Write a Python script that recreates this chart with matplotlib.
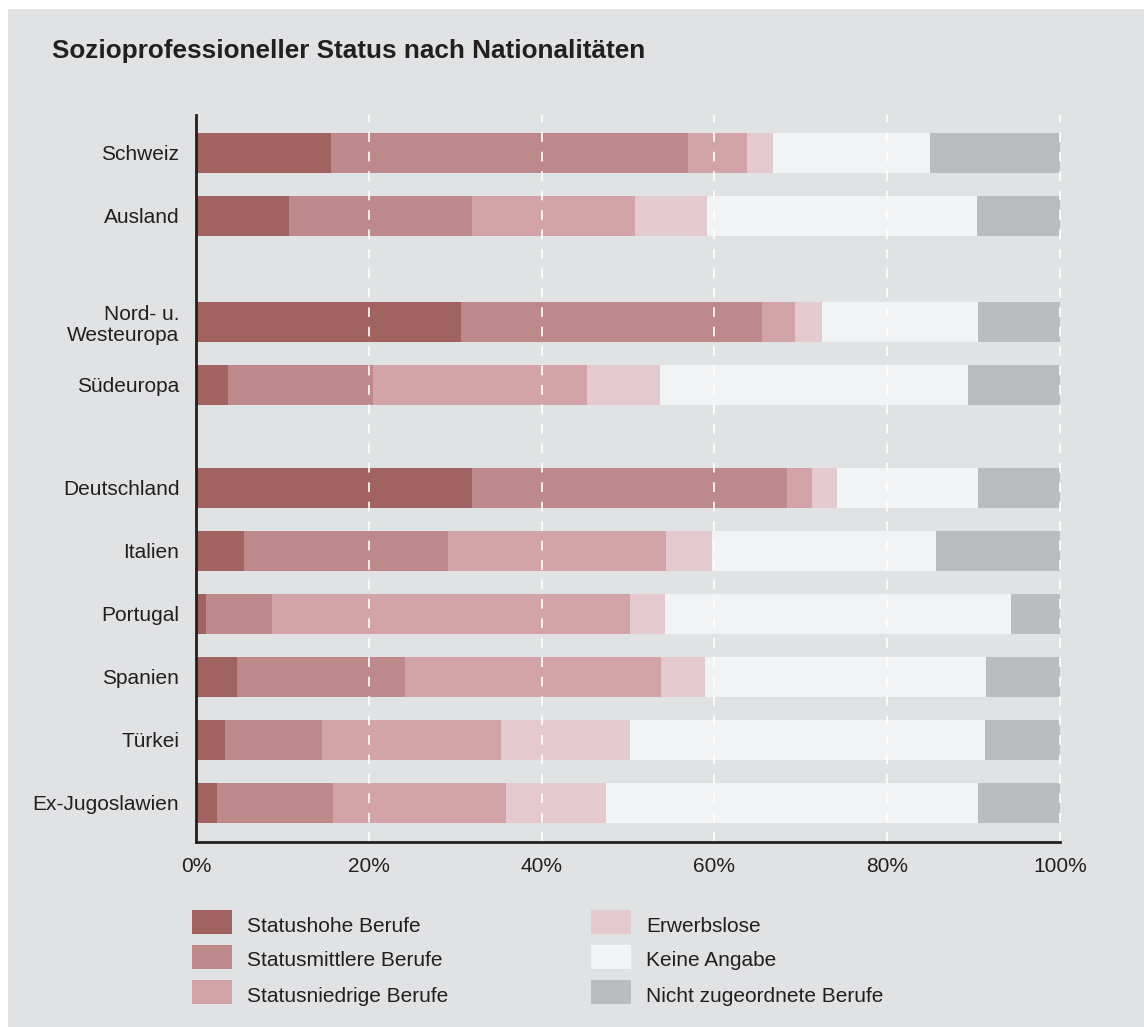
import matplotlib
matplotlib.use("Agg")
import matplotlib.pyplot as plt
from matplotlib.patches import Rectangle

plt.rcParams['font.family'] = ['Liberation Sans', 'DejaVu Sans']
plt.rcParams['lines.scale_dashes'] = False

# ---------------- data ----------------
categories = ["Schweiz", "Ausland", "Nord- u.\nWesteuropa", "Südeuropa",
              "Deutschland", "Italien", "Portugal", "Spanien", "Türkei", "Ex-Jugoslawien"]
group_breaks = {2: 0.68, 4: 0.63}  # extra space before these category indices

series_names = ["Statushohe Berufe", "Statusmittlere Berufe", "Statusniedrige Berufe",
                "Erwerbslose", "Keine Angabe", "Nicht zugeordnete Berufe"]
statushohe      = [15.6, 10.8, 30.7,  3.7, 32.0,  5.6,  1.2,  4.8,  3.4,  2.4]
statusmittlere  = [41.4, 21.2, 34.8, 16.8, 36.4, 23.6,  7.6, 19.4, 11.2, 13.5]
statusniedrige  = [ 6.8, 18.8,  3.8, 24.8,  2.9, 25.2, 41.4, 29.6, 20.7, 20.0]
erwerbslose     = [ 3.0,  8.4,  3.2,  8.4,  2.9,  5.3,  4.1,  5.1, 14.9, 11.6]
keine_angabe    = [18.2, 31.2, 18.0, 35.6, 16.3, 26.0, 40.0, 32.5, 41.1, 43.0]
nicht_zugeordn  = [15.0,  9.6,  9.5, 10.7,  9.5, 14.3,  5.7,  8.6,  8.7,  9.5]
series_values = [statushohe, statusmittlere, statusniedrige, erwerbslose, keine_angabe, nicht_zugeordn]
colors = ["#A06360", "#BD898A", "#D2A4A7", "#E5C9CE", "#F2F3F5", "#BBBCBF"]
x_ticks = [0, 20, 40, 60, 80, 100]
x_ticklabels = ["0%", "20%", "40%", "60%", "80%", "100%"]
title = "Sozioprofessioneller Status nach Nationalitäten"

# ---------------- layout ----------------
W, H = 1144, 1027
BG = "#E1E2E4"
fig = plt.figure(figsize=(W / 100, H / 100), dpi=100, facecolor="white")
fig.patches.append(Rectangle((8 / W, 0), 1 - 8 / W, 1 - 9 / H, transform=fig.transFigure,
                             facecolor=BG, edgecolor="none", zorder=-10))

def fx(px):
    return px / W

def fy(py):
    return 1 - py / H

ax = fig.add_axes([fx(196), fy(842), fx(1060) - fx(196), (842 - 115) / H])
ax.set_zorder(5)
ax.set_facecolor(BG)

# y positions with group gaps
ypos = []
y = 0.0
for i in range(len(categories)):
    y += group_breaks.get(i, 0.0)
    ypos.append(y)
    y += 1.0

left = [0.0] * len(categories)
for name, vals, col in zip(series_names, series_values, colors):
    ax.barh(ypos, vals, left=left, height=0.635, color=col, edgecolor="none", zorder=2, label=name)
    left = [l + v for l, v in zip(left, vals)]

ax.set_xlim(0, 100)
ax.set_ylim(ypos[-1] + 0.62, ypos[0] - 0.60)

for t in x_ticks[1:]:
    ax.axvline(t, color="white", linewidth=1.2, dashes=[7, 7], zorder=3, clip_on=False)

ax.set_yticks(ypos)
ax.set_yticklabels(categories, fontsize=15, color="#231f20", multialignment="right",
                   linespacing=1.15)
ax.set_xticks(x_ticks)
ax.set_xticklabels(x_ticklabels, fontsize=15, color="#231f20")
ax.tick_params(axis="both", length=0)
ax.tick_params(axis="y", pad=12)
ax.tick_params(axis="x", pad=11)

for s in ["top", "right"]:
    ax.spines[s].set_visible(False)
for s in ["left", "bottom"]:
    ax.spines[s].set_color("#231f20")
    ax.spines[s].set_linewidth(2.0)
    ax.spines[s].set_zorder(4)

fig.text(fx(52), fy(58), title, fontsize=18.8, fontweight="bold", color="#231f20",
         ha="left", va="baseline")

# legend (manual)
col_x = [192, 591]
row_y = [910, 945, 980]
for i, (name, col) in enumerate(zip(series_names, colors)):
    c, r = divmod(i, 3)
    x0, y0 = col_x[c], row_y[r]
    fig.patches.append(Rectangle((fx(x0), fy(y0 + 24)), 40 / W, 24 / H,
                                 transform=fig.transFigure, facecolor=col,
                                 edgecolor="none", zorder=2))
    fig.text(fx(x0 + 55), fy(y0 + 16), name, fontsize=15, color="#231f20",
             ha="left", va="center")

fig.savefig("out.png", dpi=100, facecolor=fig.get_facecolor())
